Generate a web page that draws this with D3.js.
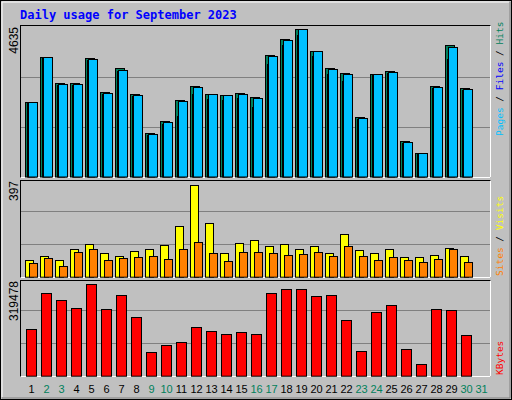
<!DOCTYPE html>
<html><head><meta charset="utf-8">
<script src="https://cdn.jsdelivr.net/npm/d3@7"></script>
<style>body{margin:0;background:#fff}</style></head>
<body><svg id="c" width="512" height="400"></svg>
<script>
const days = d3.range(1,32);
const weekend = [2,3,9,10,16,17,23,24,30,31];
const hits  = [2297,3687,2884,2884,3657,2606,3348,2544,1339,1710,2369,2802,2544,2513,2575,2451,3749,4244,4553,3873,3348,3193,1833,3162,3255,1092,721,2791,4058,2730];
const files = [2266,3656,2832,2832,3595,2544,3255,2482,1277,1617,1875,2544,2400,2359,2420,2142,3471,4058,4367,3718,3152,2966,1772,3131,3193,1030,690,2730,3646,2668];
const pages = [2297,3687,2853,2853,3626,2575,3286,2513,1308,1679,2328,2760,2544,2513,2544,2420,3718,4213,4553,3873,3317,3162,1802,3162,3224,1061,721,2760,3996,2699];
const visits= [65,83,65,110,130,94,83,102,110,126,202,369,214,94,134,146,122,130,110,122,94,170,106,94,110,78,78,86,114,82];
const sites = [53,74,41,98,110,66,74,78,82,70,110,138,94,61,98,98,94,86,90,98,82,122,82,66,78,66,57,70,110,57];
const kbytes= [149729,265919,243329,217512,294963,214285,259465,188248,75300,97889,107570,155966,143058,133377,139831,133377,265919,278827,278827,256238,259465,178567,78527,204604,227194,84981,36570,214285,211058,130149];
const maxHits = 4635, maxVisits = 397, maxKB = 319478;

const svg = d3.select('#c');
const gray='#c0c0c0';
svg.append('rect').attr('x',0.5).attr('y',0.5).attr('width',511).attr('height',399).attr('fill',gray).attr('stroke','#000');
svg.append('path').attr('d','M2,397V2H509').attr('fill','none').attr('stroke','#fff');
svg.append('path').attr('d','M2,398H510V2').attr('fill','none').attr('stroke','#808080');
svg.append('text').attr('x',20).attr('y',19).text('Daily usage for September 2023')
  .attr('font-family','DejaVu Sans Mono').attr('font-weight','bold').attr('font-size',12).attr('fill','#0000ff');

const x = d3.scaleBand().domain(days).range([25,490]).padding(0);
const panels = [{t:25,b:177},{t:180,b:277},{t:280,b:376}];
panels.forEach(p=>{
  svg.append('rect').attr('x',20.5).attr('y',p.t+0.5).attr('width',470).attr('height',p.b-p.t).attr('fill',gray).attr('stroke','#000');
  svg.append('path').attr('d',`M20.5,${p.b+0.5}H490.5V${p.t+0.5}`).attr('fill','none').attr('stroke','#fff');
});
const y1 = d3.scaleLinear().domain([0,maxHits]).range([176.5,26.5]);
const y2 = d3.scaleLinear().domain([0,maxVisits]).range([276.7,177.7]);
const y3 = d3.scaleLinear().domain([0,maxKB]).range([375.7,276.7]);
function grid(y,max){
  [1,2].forEach(k=>svg.append('line').attr('x1',21).attr('x2',490).attr('y1',Math.round(y(max*k/3))+0.5).attr('y2',Math.round(y(max*k/3))+0.5).attr('stroke','#808080'));
}
grid(y1,maxHits);grid(y2,maxVisits);grid(y3,maxKB);

function bars(data,y,dx,w,color){
  svg.append('g').selectAll('rect').data(data).join('rect')
    .attr('x',(d,i)=>x(days[i])+dx+0.5).attr('width',w)
    .attr('y',d=>Math.round(y(d))+0.5).attr('height',d=>y(0)-Math.round(y(d)))
    .attr('fill',color).attr('stroke','#000');
}
bars(hits,y1,0,9,'#00805c');
bars(files,y1,2,9,'#0000ff');
bars(pages,y1,3,9,'#00c0ff');
bars(visits,y2,0,8,'#ffff00');
bars(sites,y2,4,8,'#ff8000');
bars(kbytes,y3,1,10,'#ff0000');

function vlab(txt,xx,yy,color,anchor){
  svg.append('text').attr('transform',`translate(${xx},${yy}) rotate(-90)`).attr('text-anchor',anchor)
   .attr('font-family','Liberation Sans').attr('font-size',12).attr('fill',color).text(txt);
}
vlab(String(maxHits),18,27,'#000','end');
vlab(String(maxVisits),18,181,'#000','end');
vlab(String(maxKB),18,281,'#000','end');

function rlab(parts,xx,yy){
  const t=svg.append('text').attr('transform',`translate(${xx},${yy}) rotate(-90)`).attr('text-anchor','start')
   .attr('font-family','DejaVu Sans Mono').attr('font-size',9.5);
  parts.forEach(p=>t.append('tspan').attr('fill',p[1]).text(p[0]));
}
rlab([['Pages','#00c0ff'],[' / ','#000'],['Files','#0000ff'],[' / ','#000'],['Hits','#00805c']],503,136);
rlab([['Sites','#ff8000'],[' / ','#000'],['Visits','#ffff00']],503,276);
rlab([['KBytes','#ff0000']],503,375);

svg.append('g').selectAll('text').data(days).join('text')
  .attr('x',d=>x(d)+x.bandwidth()/2-1).attr('y',393).attr('text-anchor','middle')
  .attr('font-family','Liberation Sans').attr('font-size',11)
  .attr('fill',d=>weekend.includes(d)?'#00805c':'#000').text(d=>d);
</script></body></html>
